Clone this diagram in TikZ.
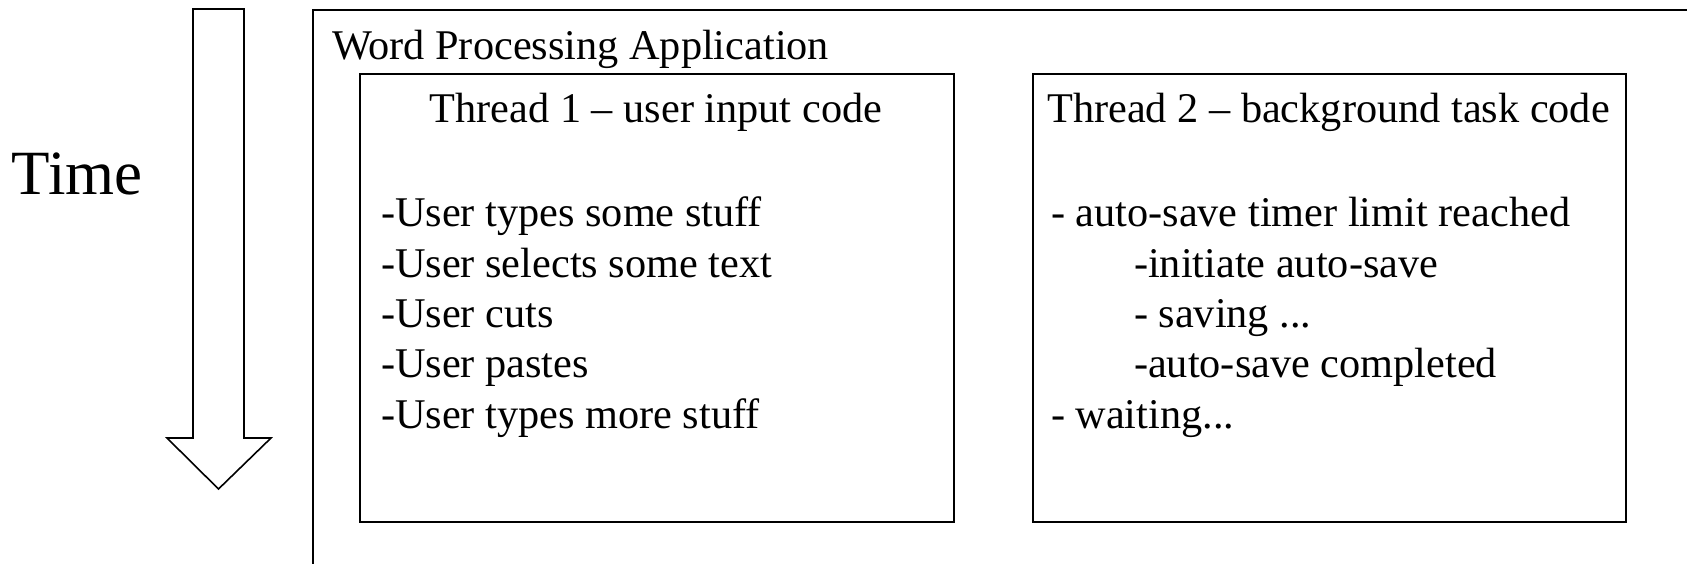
\documentclass[tikz,border=0pt]{standalone}
\usepackage{fontspec}
\setmainfont{Liberation Serif}
\begin{document}
\begin{tikzpicture}[x=1pt,y=-1pt,
  frame/.style={draw=black,line width=2pt},
  txt/.style={inner sep=0pt,outer sep=0pt,font=\fontsize{42.3}{50}\selectfont},
  line/.style={txt,anchor=base west},
  title/.style={txt,anchor=base}]
\useasboundingbox (0,0) rectangle (1687,564);
\clip (0,0) rectangle (1687,564);
\fill[white] (0,0) rectangle (1687,564);

% time arrow
\draw[line width=1.6pt,line join=miter,fill=white]
  (193,9) -- (244,9) -- (244,438) -- (271,438) -- (218.5,489)
  -- (167,438) -- (193,438) -- cycle;
\node[txt,anchor=base west,font=\fontsize{63}{74}\selectfont] (time) at (12,195) {Time};

% application frame (runs off the page to the right and bottom)
\node[frame,anchor=north west,minimum width=1420pt,minimum height=600pt,inner sep=0pt] (app) at (312,9) {};
\node[line] (applabel) at (332,60) {Word Processing Application};

% thread boxes
\node[frame,anchor=north west,minimum width=594pt,minimum height=448pt,inner sep=0pt] (t1) at (359,73) {};
\node[frame,anchor=north west,minimum width=593pt,minimum height=448pt,inner sep=0pt] (t2) at (1032,73) {};

\node[title] (t1title) at (656,123) {Thread 1 – user input code};
\node[title] (t2title) at (1328.5,123) {Thread 2 – background task code};

% thread 1 steps
\node[line] (u1) at (381,227) {-User types some stuff};
\node[line] (u2) at (381,277.25) {-User selects some text};
\node[line] (u3) at (381,327.5) {-User cuts};
\node[line] (u4) at (381,377.75) {-User pastes};
\node[line] (u5) at (381,428) {-User types more stuff};

% thread 2 steps
\node[line] (b1) at (1051,227) {- auto-save timer limit reached};
\node[line] (b2) at (1134,277.25) {-initiate auto-save};
\node[line] (b3) at (1134,327.5) {- saving ...};
\node[line] (b4) at (1134,377.75) {-auto-save completed};
\node[line] (b5) at (1051,428) {- waiting...};
\end{tikzpicture}
\end{document}
